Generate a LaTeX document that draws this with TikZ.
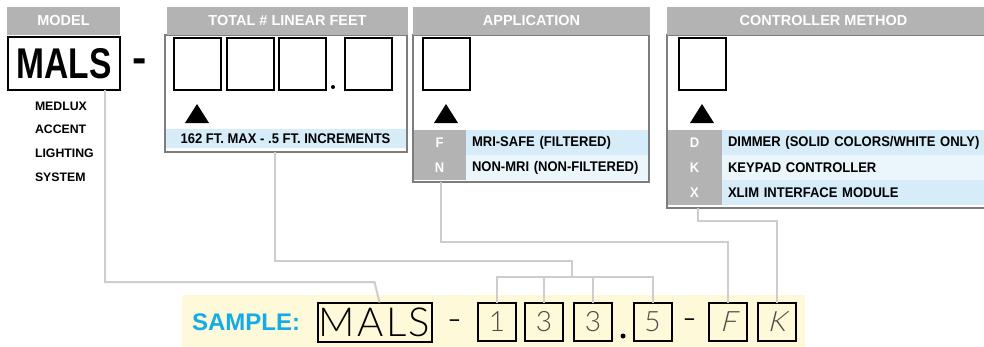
\documentclass[tikz,border=0pt]{standalone}
\usepackage{fontspec}
\setmainfont{Liberation Sans}
\newfontfamily\condfont[FakeStretch=0.78]{Liberation Sans}
\newfontfamily\rowfont[FakeStretch=0.93]{Liberation Sans}
\newfontfamily\thinfont{Lato Light}
\newfontfamily\slantfont[FakeSlant=0.25]{Lato Light}
\definecolor{hdr}{RGB}{179,179,179}
\definecolor{bord}{RGB}{125,125,125}
\definecolor{rowa}{RGB}{214,236,248}
\definecolor{rowb}{RGB}{235,245,252}
\definecolor{connc}{RGB}{205,205,205}
\definecolor{cream}{RGB}{254,249,216}
\definecolor{cyanblue}{RGB}{18,172,232}
\definecolor{pencil}{RGB}{75,75,75}
\begin{document}
\begin{tikzpicture}[x=1pt,y=-1pt,
  every node/.style={inner sep=0pt,outer sep=0pt},
  hdrbox/.style={anchor=north west,fill=hdr,text=white,minimum height=28,font=\bfseries\fontsize{14.5}{17}\selectfont},
  bodybox/.style={anchor=north west,fill=white},
  bodyline/.style={draw=bord,line width=1.6pt},
  sqbox/.style={anchor=north west,draw=black,line width=2pt,fill=white,minimum width=47,minimum height=52},
  lblcell/.style={anchor=north west,fill=hdr,text=white,minimum height=25,font=\rowfont\bfseries\fontsize{14}{16}\selectfont},
  txtcell/.style={anchor=north west,minimum height=25,inner xsep=6pt,align=left,font=\rowfont\bfseries\fontsize{14}{16}\selectfont},
  sidetxt/.style={anchor=west,font=\bfseries\fontsize{12.3}{14}\selectfont},
  sbox/.style={draw=black,line width=2pt,fill=cream,minimum width=38,minimum height=38,text=pencil,font=\thinfont\fontsize{28}{30}\selectfont},
  connline/.style={draw=connc,line width=2pt},
  arrowtri/.style={fill=black}
]
\useasboundingbox (0,0) rectangle (984,346);

% ---------- MODEL ----------
\node[anchor=north west,draw=black,line width=2.5pt,fill=white,minimum width=112,minimum height=53,
      font=\condfont\bfseries\fontsize{43}{45}\selectfont] (modelbox) at (8,37) {MALS};
\node[hdrbox,minimum width=113] (modelhdr) at (7,7) {MODEL};
\node[anchor=base,font=\bfseries\fontsize{43}{45}\selectfont] (dashtop) at (140,72) {-};
\node[sidetxt] (t1) at (35,106) {MEDLUX};
\node[sidetxt] (t2) at (35,129) {ACCENT};
\node[sidetxt] (t3) at (35,153) {LIGHTING};
\node[sidetxt] (t4) at (35,177) {SYSTEM};

% ---------- TOTAL # LINEAR FEET ----------
\node[bodybox,minimum width=242,minimum height=117] (lfbody) at (165,35) {};
\node[anchor=north west,fill=rowa,minimum width=241,minimum height=19,
      font=\rowfont\bfseries\fontsize{14}{16}\selectfont] (lfband) at (165,129) {162 FT. MAX - .5 FT. INCREMENTS};
\draw[bodyline] (lfbody.north west) rectangle (lfbody.south east);
\node[sqbox] (lf1) at (174,38) {};
\node[sqbox] (lf2) at (227,38) {};
\node[sqbox] (lf3) at (279,38) {};
\node[sqbox] (lf4) at (345,38) {};
\node[circle,fill=black,minimum size=4] (lfdot) at (333,87) {};
\fill[arrowtri] (185,123) -- (197,104) -- (209,123) -- cycle;
\node[hdrbox,minimum width=241] (lfhdr) at (167,7) {TOTAL \# LINEAR FEET};

% ---------- APPLICATION ----------
\node[bodybox,minimum width=236,minimum height=147] (apbody) at (413,35) {};
\node[lblcell,minimum width=53] (apF) at (413,130) {F};
\node[lblcell,minimum width=53] (apN) at (413,155) {N};
\node[txtcell,fill=rowa,text width=171] (apFt) at (466,130) {MRI-SAFE (FILTERED)};
\node[txtcell,fill=rowb,text width=171] (apNt) at (466,155) {NON-MRI (NON-FILTERED)};
\draw[bodyline] (apbody.north west) rectangle (apbody.south east);
\node[sqbox] (ap1) at (423,38) {};
\fill[arrowtri] (434,123) -- (446,104) -- (458,123) -- cycle;
\node[hdrbox,minimum width=237] (aphdr) at (413,7) {APPLICATION};

% ---------- CONTROLLER METHOD ----------
\node[bodybox,minimum width=323,minimum height=173] (ctbody) at (667,35) {};
\node[lblcell,minimum width=55] (ctD) at (667,130) {D};
\node[lblcell,minimum width=55] (ctK) at (667,155) {K};
\node[lblcell,minimum width=55] (ctX) at (667,180) {X};
\node[txtcell,fill=rowa,text width=256] (ctDt) at (722,130) {DIMMER (SOLID COLORS/WHITE ONLY)};
\node[txtcell,fill=rowb,text width=256] (ctKt) at (722,155) {KEYPAD CONTROLLER};
\node[txtcell,fill=rowa,text width=256] (ctXt) at (722,180) {XLIM INTERFACE MODULE};
\draw[bodyline] (ctbody.north west) rectangle (ctbody.south east);
\node[sqbox] (ct1) at (679,38) {};
\fill[arrowtri] (690,123) -- (702,104) -- (714,123) -- cycle;
\node[hdrbox,minimum width=330] (cthdr) at (667,7) {\hspace*{-17pt}CONTROLLER METHOD};

% ---------- SAMPLE ----------
\node[anchor=north west,fill=cream,minimum width=623,minimum height=52] (band) at (182,295) {};
\node[anchor=west,text=cyanblue,font=\bfseries\fontsize{24}{26}\selectfont] (samplelbl) at (192,322) {SAMPLE:};

% coordinates for connector turns
\coordinate (mturn) at (0,282);
\coordinate (lfturn) at (572,261);
\coordinate (bus) at (572,277);
\coordinate (apturn) at (0,242);
\coordinate (ctturn) at (0,221);

\node[sbox,minimum width=114,minimum height=39,text=black,font=\thinfont\fontsize{40}{42}\selectfont] (smals) at (374.5,322) {\addfontfeature{LetterSpace=6}MALS};
\node[anchor=base,font=\thinfont\fontsize{40}{42}\selectfont] (sdash1) at (455,332) {-};
\node[sbox] (s1) at (497,321.5) {1};
\node[sbox] (s2) at (544,321.5) {3};
\node[sbox] (s3) at (593,321.5) {3};
\node[circle,fill=black,minimum size=5] (sdot) at (623,336) {};
\node[sbox] (s5) at (652.5,321.5) {5};
\node[anchor=base,font=\thinfont\fontsize{40}{42}\selectfont] (sdash2) at (690,331) {-};
\node[sbox,font=\slantfont\fontsize{28}{30}\selectfont] (sF) at (728,321.5) {F};
\node[sbox,font=\slantfont\fontsize{28}{30}\selectfont] (sK) at (776.5,321.5) {K};

% ---------- CONNECTORS ----------
\draw[connline] ([xshift=41]modelbox.south) |- (mturn -| smals.north) -- ([xshift=5]smals.north);
\draw[connline] ([xshift=-11]lfbody.south) |- (lfturn) -- (bus);
\draw[connline] (s1.north) |- (bus) -| (s5.north);
\draw[connline] (s2.north) -- (s2.north |- bus);
\draw[connline] (s3.north) -- (s3.north |- bus);
\draw[connline] ([xshift=-90]apbody.south) |- (apturn -| sF.north) -- (sF.north);
\draw[connline] ([xshift=-131]ctbody.south) |- (ctturn -| sK.north) -- (sK.north);
\end{tikzpicture}
\end{document}
